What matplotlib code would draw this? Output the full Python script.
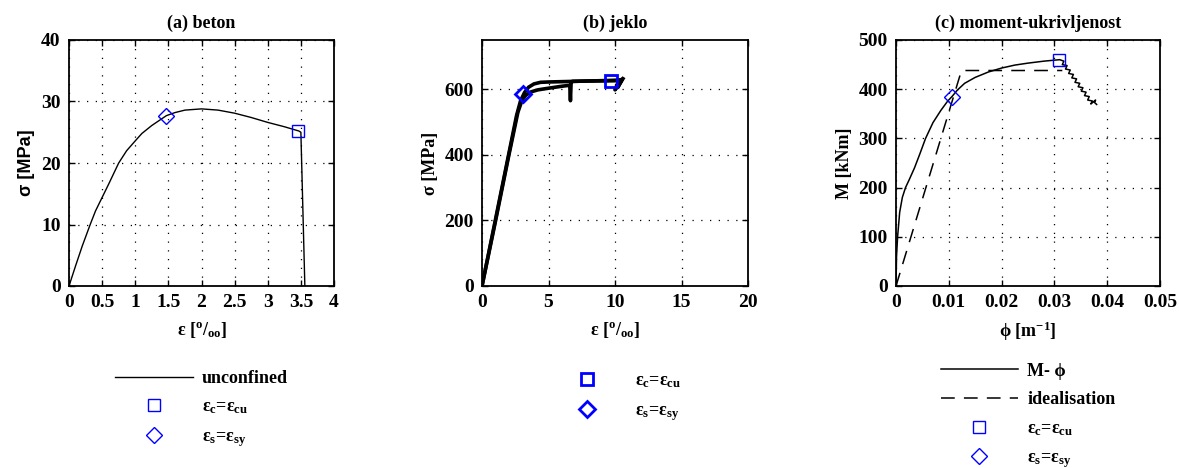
import matplotlib
matplotlib.use("Agg")
import matplotlib.pyplot as plt
import numpy as np

plt.rcParams['font.family'] = ['Liberation Serif', 'DejaVu Serif']
plt.rcParams['font.weight'] = 'bold'
plt.rcParams['mathtext.fontset'] = 'custom'
plt.rcParams['mathtext.rm'] = 'Liberation Serif:bold'
plt.rcParams['mathtext.it'] = 'Liberation Serif:bold'
plt.rcParams['mathtext.bf'] = 'Liberation Serif:bold'

# (a) beton - unconfined concrete
conc_eps = [0, 0.1, 0.2, 0.32, 0.4, 0.5, 0.6, 0.75, 0.87, 1.0, 1.1, 1.25, 1.47, 1.6,
            1.75, 2.0, 2.25, 2.5, 2.75, 3.0, 3.25, 3.47, 3.5, 3.56]
conc_sig = [0, 3.3, 6.5, 10.0, 12.2, 14.4, 16.6, 20.0, 22.0, 23.6, 24.8, 26.1, 27.7, 28.2,
            28.6, 28.8, 28.6, 28.1, 27.4, 26.6, 25.9, 25.2, 25.0, 0]
conc_cu = (3.45, 25.2)
conc_sy = (1.47, 27.7)

# (b) jeklo - steel, two loading branches
steel_eps_a = [0, 1.0, 2.0, 2.6, 2.9, 3.2, 3.5, 3.9, 4.4, 5.0, 6.0, 7.0, 8.0, 9.0, 10.0, 10.4]
steel_sig_a = [0, 200, 400, 520, 565, 590, 606, 616, 621, 622, 623, 624, 625, 626, 627, 628]
steel_eps_b = [0, 1.0, 2.0, 2.7, 3.0, 3.3, 3.7, 4.2, 5.0, 6.0, 6.6, 6.65, 6.7, 6.8,
               8.0, 10.0, 10.3, 10.0, 10.5, 10.2, 10.6]
steel_sig_b = [0, 195, 395, 530, 565, 582, 592, 598, 603, 609, 612, 565, 620, 624,
               625, 626, 628, 598, 630, 605, 632]
steel_cu = (9.7, 626)
steel_sy = (3.05, 585)

# (c) moment-ukrivljenost
mphi_phi = [0, 0.0001, 0.0003, 0.0007, 0.0012, 0.0018, 0.0025, 0.0035, 0.0045, 0.0056,
            0.007, 0.0085, 0.0098, 0.0106, 0.0116, 0.013, 0.015, 0.0175, 0.02, 0.0225,
            0.025, 0.028, 0.0310,
            0.0318, 0.0315, 0.0324, 0.0321, 0.0330, 0.0327, 0.0336, 0.0333, 0.0342,
            0.0339, 0.0348, 0.0345, 0.0354, 0.0351, 0.0360, 0.0357, 0.0366, 0.0363,
            0.0372, 0.0369, 0.0378, 0.0376, 0.0380]
mphi_m = [0, 60, 100, 150, 180, 200, 216, 240, 268, 300,
          332, 357, 376, 385, 398, 412, 424, 435, 443, 449,
          453, 457, 460,
          457, 450, 448, 441, 439, 432, 430, 423, 421,
          414, 412, 405, 403, 396, 394, 387, 385, 378,
          376, 370, 378, 373, 369]
ideal_phi = [0, 0.0124, 0.0315]
ideal_m = [0, 438, 438]
mphi_cu = (0.0309, 460)
mphi_sy = (0.0107, 384)

fig = plt.figure(figsize=(11.79, 4.68), dpi=100)
W, H = 1179., 468.
ax1 = fig.add_axes([69 / W, 1 - 286 / H, 265 / W, 246 / H])
ax2 = fig.add_axes([482 / W, 1 - 286 / H, 266 / W, 246 / H])
ax3 = fig.add_axes([896 / W, 1 - 286 / H, 264 / W, 246 / H])

blue = '#0000ff'
mk = dict(linestyle='none', mfc='none', mec=blue, mew=1.0, markersize=8)


def style(ax):
    ax.grid(True, color='black', linestyle=(0, (1, 6)), linewidth=0.9)
    ax.tick_params(direction='in', top=True, right=True, labelsize=14, length=4, width=1, pad=6)
    for s in ax.spines.values():
        s.set_linewidth(1.3)
    for lab in ax.get_xticklabels() + ax.get_yticklabels():
        lab.set_fontweight('bold')


# panel a
ax1.plot(conc_eps, conc_sig, color='black', linewidth=1.0, label='unconfined')
ax1.plot(*conc_cu, marker='s', label=r'ε$_\mathrm{c}$=ε$_\mathrm{cu}$', **mk)
ax1.plot(*conc_sy, marker='D', label=r'ε$_\mathrm{s}$=ε$_\mathrm{sy}$', **mk)
ax1.set_xlim(0, 4)
ax1.set_ylim(0, 40)
ax1.set_xticks(np.arange(0, 4.01, 0.5))
ax1.set_xticklabels(['0', '0.5', '1', '1.5', '2', '2.5', '3', '3.5', '4'])
ax1.set_yticks([0, 10, 20, 30, 40])
ax1.set_title('(a) beton', fontsize=13, fontweight='bold', pad=9)
ax1.set_xlabel(r'ε [$^\mathrm{o}$/$_\mathrm{oo}$]', fontsize=13, fontweight='bold', labelpad=6)
ax1.set_ylabel('σ [MPa]', fontsize=13, fontweight='bold', family=['Liberation Sans', 'DejaVu Sans'])
style(ax1)

# panel b
ax2.plot(steel_eps_a, steel_sig_a, color='black', linewidth=2.6)
ax2.plot(steel_eps_b, steel_sig_b, color='black', linewidth=2.6)
ax2.plot(*steel_cu, marker='s', label=r'ε$_\mathrm{c}$=ε$_\mathrm{cu}$', **dict(mk, mew=2.0))
ax2.plot(*steel_sy, marker='D', label=r'ε$_\mathrm{s}$=ε$_\mathrm{sy}$', **dict(mk, mew=2.0))
ax2.set_xlim(0, 20)
ax2.set_ylim(0, 750)
ax2.set_xticks([0, 5, 10, 15, 20])
ax2.set_yticks([0, 200, 400, 600])
ax2.set_title('(b) jeklo', fontsize=13, fontweight='bold', pad=9)
ax2.set_xlabel(r'ε [$^\mathrm{o}$/$_\mathrm{oo}$]', fontsize=13, fontweight='bold', labelpad=6)
ax2.set_ylabel('σ [MPa]', fontsize=13, fontweight='bold')
style(ax2)

# panel c
ax3.plot(mphi_phi, mphi_m, color='black', linewidth=1.1, label='M- ϕ')
ax3.plot(ideal_phi, ideal_m, color='black', linewidth=1.1, dashes=(9, 6), label='idealisation')
ax3.plot(*mphi_cu, marker='s', label=r'ε$_\mathrm{c}$=ε$_\mathrm{cu}$', **mk)
ax3.plot(*mphi_sy, marker='D', label=r'ε$_\mathrm{s}$=ε$_\mathrm{sy}$', **mk)
ax3.set_xlim(0, 0.05)
ax3.set_ylim(0, 500)
ax3.set_xticks([0, 0.01, 0.02, 0.03, 0.04, 0.05])
ax3.set_xticklabels(['0', '0.01', '0.02', '0.03', '0.04', '0.05'])
ax3.set_yticks([0, 100, 200, 300, 400, 500])
ax3.set_title('(c) moment-ukrivljenost', fontsize=13, fontweight='bold', pad=9)
ax3.set_xlabel(r'ϕ [m$^{-1}$]', fontsize=13, fontweight='bold', labelpad=6)
ax3.set_ylabel('M [kNm]', fontsize=13, fontweight='bold')
style(ax3)

leg_y = {ax1: -0.29, ax2: -0.30, ax3: -0.26}
for ax in (ax1, ax2, ax3):
    ax.legend(loc='upper center', bbox_to_anchor=(0.5, leg_y[ax]), frameon=False,
              fontsize=13, handlelength=4.3, handletextpad=0.5, labelspacing=0.65,
              numpoints=1, borderpad=0.2)

fig.savefig('out.png', dpi=100)
